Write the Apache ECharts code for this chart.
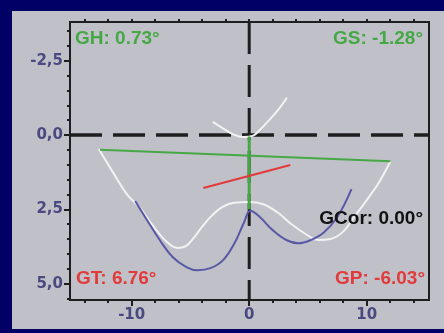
<!DOCTYPE html>
<html>
<head>
<meta charset="utf-8">
<script src="https://cdn.jsdelivr.net/npm/echarts@6/dist/echarts.min.js"></script>
<style>
  html, body { margin: 0; padding: 0; background: #000066; }
  #chart { width: 444px; height: 333px; }
</style>
</head>
<body>
<div id="chart"></div>
<script>
// Axis extents
const xRange = [-15.25, 15.3];
const yRange = [-3.8, 5.55];

// Tick and label positions
const xMinorTicks = [-14, -12, -10, -8, -6, -4, -2, 0, 2, 4, 6, 8, 10, 12, 14];
const xLabels = [-10, 0, 10];
const yMinorTicks = [-3.5, -3, -2.5, -2, -1.5, -1, -0.5, 0, 0.5, 1, 1.5, 2, 2.5, 3, 3.5, 4, 4.5, 5, 5.5];
const yLabels = [-2.5, 0, 2.5, 5];

// Curves
const whiteLower = [[-12.8, 0.47], [-11.6, 1.25], [-10.4, 2.0], [-9.3, 2.45], [-8.2, 3.05], [-7.0, 3.6],
  [-6.1, 3.8], [-5.4, 3.74], [-4.7, 3.45], [-4.0, 3.08], [-3.2, 2.72], [-2.3, 2.43], [-1.3, 2.28],
  [0.0, 2.25], [1.2, 2.33], [2.4, 2.6], [3.6, 3.0], [4.8, 3.33], [5.9, 3.53], [6.9, 3.5],
  [8.0, 3.25], [9.0, 2.72], [10.0, 2.19], [11.0, 1.62], [12.0, 0.9]];
const whiteUpper = [[-3.1, -0.44], [-2.3, -0.24], [-1.4, -0.03], [-0.5, 0.07], [0.3, 0.03],
  [0.9, -0.17], [1.8, -0.54], [2.6, -0.91], [3.2, -1.25]];
const blueCurve = [[-9.7, 2.22], [-8.7, 2.86], [-7.6, 3.54], [-6.5, 4.11], [-5.3, 4.45], [-4.4, 4.55],
  [-3.3, 4.48], [-2.2, 4.2], [-1.2, 3.6], [-0.45, 2.95], [0.1, 2.55], [0.9, 2.76], [2.0, 3.2],
  [3.2, 3.54], [4.2, 3.64], [5.2, 3.54], [6.3, 3.3], [7.5, 2.76], [8.7, 1.82]];
const greenLine = [[-12.7, 0.5], [12.0, 0.88]];
const greenVertical = [[0, 0.05], [0, 2.5]];
const redLine = [[-3.9, 1.78], [3.5, 1.01]];
const zeroHorizontal = [[xRange[0], 0], [xRange[1], 0]];
const zeroVertical = [[0, yRange[0]], [0, yRange[1]]];

// Angle readouts
const angleTexts = ['GH: 0.73°', 'GS: -1.28°', 'GT: 6.76°', 'GP: -6.03°', 'GCor: 0.00°'];

const axisColor = '#1e1e1e';
const tickLabelStyle = { color: '#4a4a80', fontFamily: 'DejaVu Sans', fontWeight: 'bold', fontSize: 15 };
const noteFont = { fontFamily: 'Liberation Sans', fontWeight: 'bold', fontSize: 19 };
const green = '#45a845';
const red = '#e23a3a';

const commaFmt = v => Number(v).toFixed(1).replace('.', ',');

function xAxisDef(position, ticks, len, labels) {
  return {
    type: 'value', position: position, min: xRange[0], max: xRange[1],
    axisLine: { show: true, onZero: false, lineStyle: { color: axisColor, width: 2 } },
    axisTick: { show: true, inside: false, length: len, customValues: ticks, lineStyle: { color: axisColor, width: 2 } },
    axisLabel: labels ? Object.assign({ show: true, margin: 8, customValues: labels }, tickLabelStyle) : { show: false },
    splitLine: { show: false }
  };
}
function yAxisDef(ticks, len, labels) {
  return {
    type: 'value', position: 'left', inverse: true, min: yRange[0], max: yRange[1],
    axisLine: { show: true, onZero: false, lineStyle: { color: axisColor, width: 2 } },
    axisTick: { show: true, inside: false, length: len, customValues: ticks, lineStyle: { color: axisColor, width: 2 } },
    axisLabel: labels ? Object.assign({ show: true, margin: 7, customValues: labels, formatter: commaFmt }, tickLabelStyle) : { show: false },
    splitLine: { show: false }
  };
}

function lineSeries(data, color, width, extra) {
  return Object.assign({
    type: 'line', data: data, symbol: 'none', silent: true,
    lineStyle: { color: color, width: width }
  }, extra || {});
}

const chart = echarts.init(document.getElementById('chart'), null, { renderer: 'canvas' });
chart.setOption({
  animation: false,
  backgroundColor: '#000066',
  grid: { left: 70, top: 22, width: 359, height: 278, show: true, backgroundColor: '#c0c0c8',
    borderColor: axisColor, borderWidth: 2 },
  graphic: [
    { type: 'rect', z: -10, silent: true, shape: { x: 12, y: 11, width: 432, height: 318 }, style: { fill: '#c0c0c8' } },
    { type: 'text', z: 100, left: 75, top: 29, style: Object.assign({ text: angleTexts[0], fill: green }, noteFont) },
    { type: 'text', z: 100, right: 21, top: 29, style: Object.assign({ text: angleTexts[1], fill: green }, noteFont) },
    { type: 'text', z: 100, left: 76, top: 269, style: Object.assign({ text: angleTexts[2], fill: red }, noteFont) },
    { type: 'text', z: 100, right: 19, top: 269, style: Object.assign({ text: angleTexts[3], fill: red }, noteFont) },
    { type: 'text', z: 100, right: 21, top: 209, style: Object.assign({ text: angleTexts[4], fill: '#111111' }, noteFont) }
  ],
  xAxis: [
    xAxisDef('bottom', xMinorTicks, 3, null),
    xAxisDef('top', xMinorTicks, 3, null),
    xAxisDef('bottom', xLabels, 6, xLabels)
  ],
  yAxis: [
    yAxisDef(yMinorTicks, 3, null),
    yAxisDef(yLabels, 6, yLabels)
  ],
  series: [
    lineSeries(zeroHorizontal, '#1e1e1e', 3.5, { lineStyle: { color: '#1e1e1e', width: 3.5, type: [32, 11] } }),
    lineSeries(zeroVertical, '#1e1e1e', 3, { lineStyle: { color: '#1e1e1e', width: 3, type: [32, 11] } }),
    lineSeries(whiteLower, '#f2f2f2', 2, { smooth: 0.4 }),
    lineSeries(whiteUpper, '#f2f2f2', 2, { smooth: 0.4 }),
    lineSeries(blueCurve, '#5858a6', 2, { smooth: 0.4 }),
    lineSeries(greenLine, green, 2),
    lineSeries(greenVertical, green, 3),
    lineSeries(redLine, red, 2)
  ]
});
</script>
</body>
</html>
